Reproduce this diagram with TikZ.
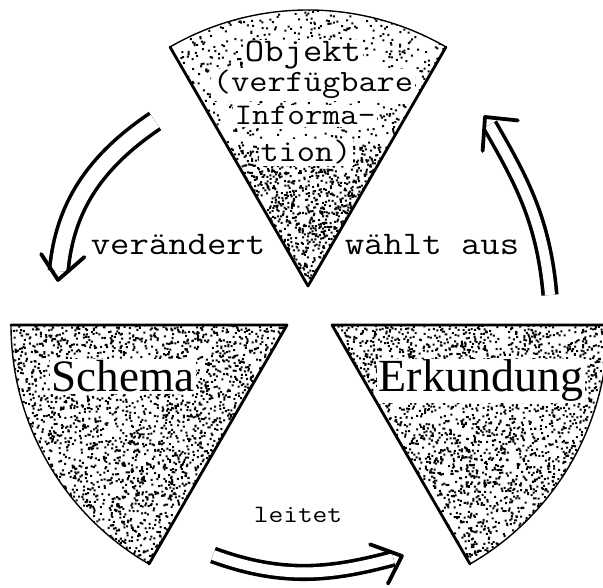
\documentclass[tikz,border=0pt]{standalone}
\usepackage{fontspec}
\usetikzlibrary{arrows.meta,calc}
\newfontfamily\typefont{Latin Modern Mono}[FakeStretch=1.14]
\newfontfamily\bookfont{Liberation Serif}
% random specks inside a box: x0, y0, width, height, count
\newcommand\speckle[5]{%
  \fill foreach \i in {1,...,#5}{({#1+#3*rnd},{#2+#4*rnd}) rectangle ++(2,2)};}

\begin{document}
\begin{tikzpicture}[x=1pt,y=1pt,
  rim/.style={line width=1.4pt},
  edge/.style={line width=2.8pt,line cap=round,line join=round},
  label/.style={fill=white,inner sep=1.5pt,anchor=base},
  arr/.style={line width=3.6pt,double distance=#1,shorten >=9pt},
  arr/.default=10pt,
  head/.style={line width=3.8pt,line cap=round,line join=round},
]
\useasboundingbox (0,0) rectangle (603,588);
\pgfmathsetseed{4711}
% sector apexes
\coordinate (ta) at (308,302);
\coordinate (la) at (287,263);
\coordinate (ra) at (332,263);

% top sector
\begin{scope}
\clip (ta) -- ++(60:276) arc[start angle=60,end angle=120,radius=276] -- cycle;
\speckle{170}{302}{276}{276}{1600}
\speckle{225}{302}{170}{140}{1300}
\end{scope}
\node[label,font=\typefont\fontsize{33}{33}\selectfont] (objekt) at (303,526) {Objekt};
\node[label,font=\typefont\fontsize{31}{31}\selectfont] (verfueg) at (313,496) {(verfügbare};
\node[label,font=\typefont\fontsize{30}{30}\selectfont] (inform) at (305,463) {Informa-};
\node[label,font=\typefont\fontsize{31}{31}\selectfont] (tion) at (306,426) {tion)};
\draw[rim] (ta) -- ++(60:276) arc[start angle=60,end angle=120,radius=276] -- cycle;
\draw[edge] ($(ta)+(60:276)$) -- (ta) -- ++(120:276);

% left sector
\begin{scope}
\clip (la) -- ++(180:276) arc[start angle=180,end angle=240,radius=276] -- cycle;
\speckle{11}{24}{276}{239}{3600}
\end{scope}
\node[label,font=\bookfont\fontsize{45}{45}\selectfont] (schema) at (123,196) {Schema};
\draw[rim] (la) -- ++(180:276) arc[start angle=180,end angle=240,radius=276] -- cycle;
\draw[edge] ($(la)+(180:276)$) -- (la) -- ++(240:276);

% right sector
\begin{scope}
\clip (ra) -- ++(300:276) arc[start angle=300,end angle=360,radius=276] -- cycle;
\speckle{332}{24}{276}{239}{3600}
\end{scope}
\node[label,font=\bookfont\fontsize{46}{46}\selectfont] (erkund) at (481,196) {Erkundung};
\draw[rim] (ra) -- ++(300:276) arc[start angle=300,end angle=360,radius=276] -- cycle;
\draw[edge] ($(ra)+(300:276)$) -- (ra) -- ++(360:276);

% arrows with their verbs
\coordinate (v1) at (155,467);
\coordinate (v2) at (58,308);
\coordinate (w1) at (550,293);
\coordinate (w2) at (485,471);
\coordinate (l1) at (213,33);
\coordinate (l2) at (402,32);
\draw[arr=15pt] (v1) to[out=214,in=85] (v2);
\draw[head] ($(v2)+(123:31)$) -- (v2) -- ++(41:35);
\draw[arr] (w1) to[out=95,in=-60] (w2);
\draw[head] ($(w2)+(-6:33)$) -- (w2) -- ++(266:34);
\draw[arr] (l1) to[out=-20,in=195] (l2);
\draw[head] ($(l2)+(160:34)$) -- (l2) -- ++(243:31);
\node[label,font=\typefont\fontsize{33}{33}\selectfont] (veraend) at (178,333) {verändert};
\node[label,font=\typefont\fontsize{33}{33}\selectfont] (waehlt) at (432,333) {wählt aus};
\node[label,font=\typefont\fontsize{25}{25}\selectfont] (leitet) at (298,65) {leitet};
\end{tikzpicture}
\end{document}
